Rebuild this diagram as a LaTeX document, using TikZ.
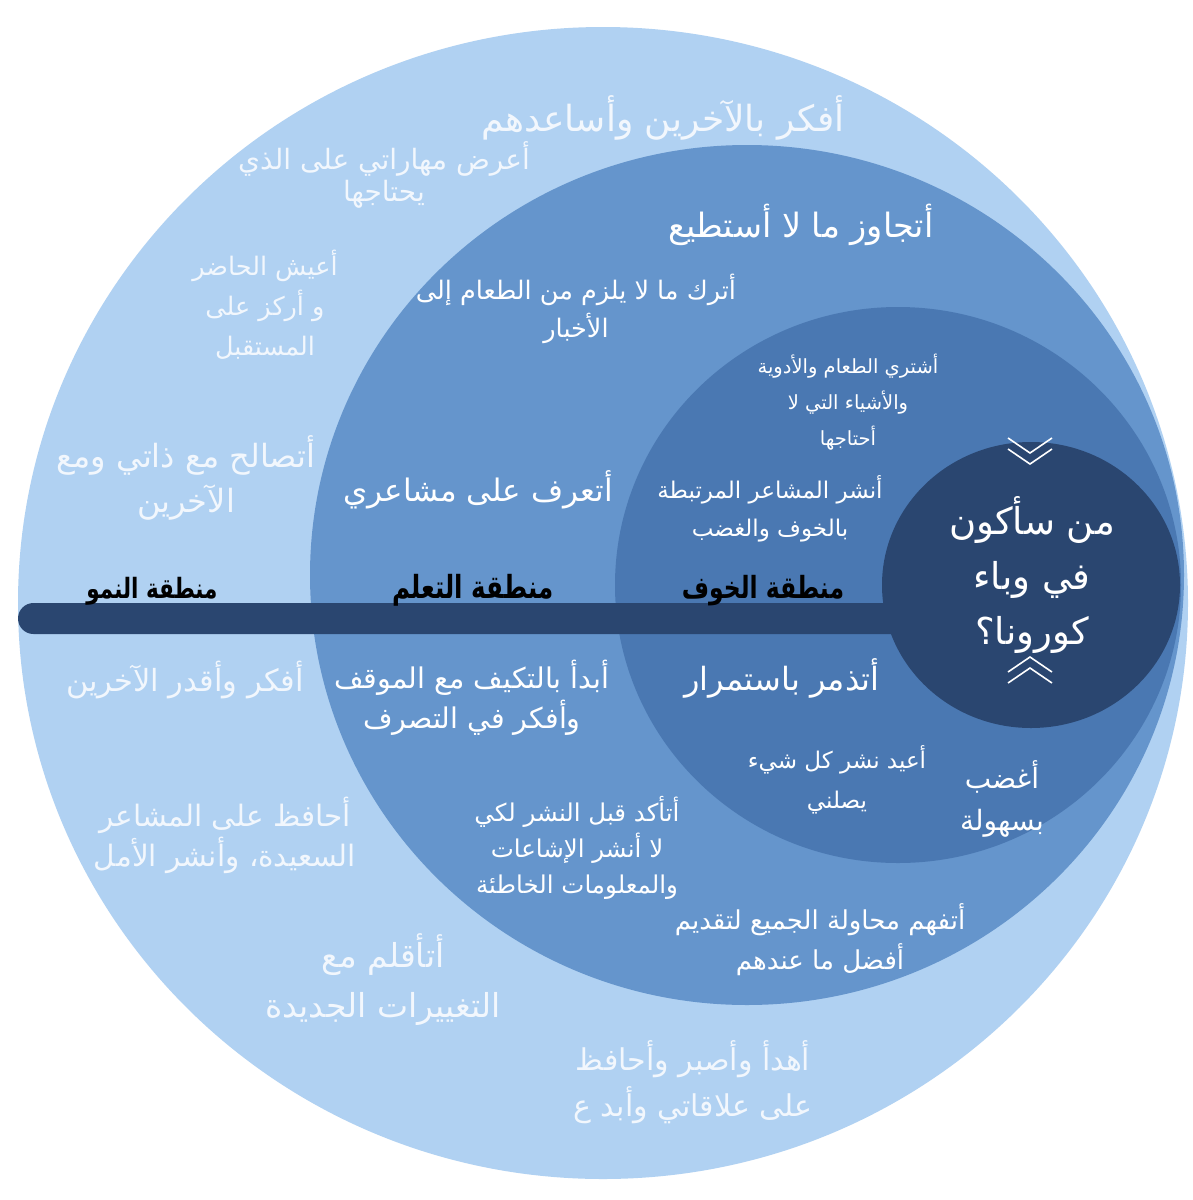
\documentclass[tikz,border=0pt]{standalone}
\usepackage{fontspec}
\newfontfamily\arabicfont[Script=Arabic]{DejaVu Sans}
\TeXXeTstate=1
\newcommand{\rl}[1]{\beginR #1\endR}
\newcommand{\tallrl}[1]{\scalebox{1}[1.3]{\beginR #1\endR}}
\definecolor{zoneA}{HTML}{B0D1F2}
\definecolor{zoneB}{HTML}{6595CC}
\definecolor{zoneC}{HTML}{4A78B2}
\definecolor{zoneD}{HTML}{2A4670}
\definecolor{outtxt}{HTML}{F2F7FD}
\begin{document}
\begin{tikzpicture}[x=1pt,y=-1pt,
  txt/.style 2 args={font=\arabicfont\fontsize{#1}{#2}\selectfont, text=white, align=center, inner sep=0pt},
  otxt/.style 2 args={txt={#1}{#2}, text=outtxt},
  zlabel/.style={font=\arabicfont\bfseries\fontsize{#1}{#1}\selectfont, text=black, inner sep=0pt, anchor=base},
  chev/.style={draw=white, line width=1.6pt}
]
\useasboundingbox (0,0) rectangle (1192,1200);
\fill[white] (0,0) rectangle (1192,1200);
% zones
\fill[zoneA] (603,603) ellipse [x radius=585pt, y radius=576pt];
\fill[zoneB] (747,575) ellipse [x radius=437pt, y radius=430pt];
\fill[zoneC] (898,585) ellipse [x radius=283pt, y radius=278pt];
\fill[zoneD, rounded corners=15.5pt] (18,603) rectangle (980,634);
\fill[zoneD] (1031,585) ellipse [x radius=149pt, y radius=143pt];
% chevrons
\draw[chev] (1008,438) -- (1030,453) -- (1052,438);
\draw[chev] (1008,449) -- (1030,464) -- (1052,449);
\draw[chev] (1008,672) -- (1030,657) -- (1052,672);
\draw[chev] (1008,683) -- (1030,668) -- (1052,683);
% growth zone texts
\node[otxt={36}{40}] (g1) at (663,118) {\rl{أفكر بالآخرين وأساعدهم}};
\node[otxt={28}{32}] (g2) at (384,175) {\rl{أعرض مهاراتي على الذي}\\\rl{يحتاجها}};
\node[otxt={25.5}{40}] (g3) at (265,305) {\rl{أعيش الحاضر}\\\rl{و أركز على}\\\rl{المستقبل}};
\node[otxt={32}{45}] (g4) at (186,478) {\rl{أتصالح مع ذاتي ومع}\\\rl{الآخرين}};
\node[otxt={30.5}{36}] (g5) at (185,680) {\rl{أفكر وأقدر الآخرين}};
\node[otxt={29.5}{40}] (g6) at (225,835) {\rl{أحافظ على المشاعر}\\\rl{السعيدة، وأنشر الأمل}};
\node[otxt={33}{50}] (g7) at (383,980) {\rl{أتأقلم مع}\\\rl{التغييرات الجديدة}};
\node[otxt={30}{46}] (g8) at (693,1082) {\rl{أهدأ وأصبر وأحافظ}\\\rl{على علاقاتي وأبد ع}};
% learning zone texts
\node[txt={33.5}{36}] (l1) at (801,225) {\rl{أتجاوز ما لا أستطيع}};
\node[txt={25.5}{38}] (l2) at (576,309) {\rl{أترك ما لا يلزم من الطعام إلى}\\\rl{الأخبار}};
\node[txt={31}{36}] (l3) at (478,490) {\rl{أتعرف على مشاعري}};
\node[txt={28.5}{40}] (l4) at (472,698) {\rl{أبدأ بالتكيف مع الموقف}\\\rl{وأفكر في التصرف}};
\node[txt={24.5}{36}] (l5) at (577,848) {\rl{أتأكد قبل النشر لكي}\\\rl{لا أنشر الإشاعات}\\\rl{والمعلومات الخاطئة}};
\node[txt={26}{40}] (l6) at (820,940) {\rl{أتفهم محاولة الجميع لتقديم}\\\rl{أفضل ما عندهم}};
% fear zone texts
\node[txt={19.5}{36}] (f1) at (848,402) {\rl{أشتري الطعام والأدوية}\\\rl{والأشياء التي لا}\\\rl{أحتاجها}};
\node[txt={23}{38}] (f2) at (770,509) {\rl{أنشر المشاعر المرتبطة}\\\rl{بالخوف والغضب}};
\node[txt={32}{36}] (f3) at (782,678) {\rl{أتذمر باستمرار}};
\node[txt={23}{40}] (f4) at (837,780) {\rl{أعيد نشر كل شيء}\\\rl{يصلني}};
\node[txt={28}{42}] (f5) at (1002,799) {\rl{أغضب}\\\rl{بسهولة}};
% centre
\node[txt={37}{55}] (c1) at (1032,575) {\rl{من سأكون}\\\rl{في وباء}\\\rl{كورونا؟}};
% zone labels
\node[zlabel=21.5] (z1) at (152,598) {\tallrl{منطقة النمو}};
\node[zlabel=24.5] (z2) at (473,598) {\tallrl{منطقة التعلم}};
\node[zlabel=23.5] (z3) at (763,598) {\tallrl{منطقة الخوف}};
\end{tikzpicture}
\end{document}
